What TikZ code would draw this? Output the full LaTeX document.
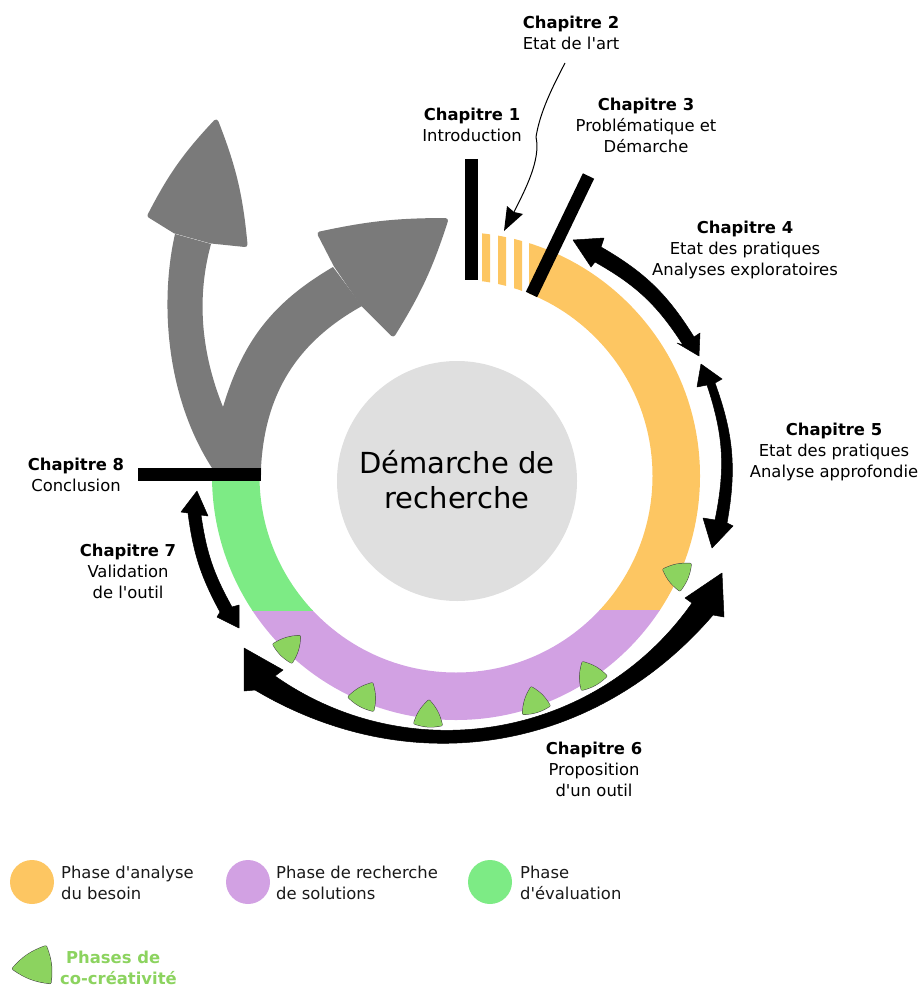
\documentclass[tikz,border=0pt]{standalone}
\usepackage{fontspec}
\usetikzlibrary{calc}
\setmainfont{DejaVu Sans}[Ligatures=TeXOff]
\definecolor{orangeph}{HTML}{FDC662}
\definecolor{purpleph}{HTML}{D2A1E3}
\definecolor{greenph}{HTML}{7DEB85}
\definecolor{grayarrow}{HTML}{7A7A7A}
\definecolor{tricol}{HTML}{8CD35F}
\definecolor{core}{HTML}{DFDFDF}
\tikzset{
  lbl/.style={align=center,inner sep=0pt,text=black,font=\fontsize{16.4}{21}\selectfont},
  leg/.style={align=left,anchor=west,inner sep=0pt,text=black!90,font=\fontsize{16.4}{21}\selectfont},
  blk/.style={fill=black,draw=black,line width=.5pt,line join=round},
  bar/.style={draw=black,line width=12.5pt},
  grayhead/.style={fill=grayarrow,draw=grayarrow,line width=5pt,line join=round},
  triout/.style={draw=black!75,line width=3.4pt,line join=round},
  triin/.style={fill=tricol,draw=tricol,line width=2.4pt,line join=round},
}
\newcommand{\ringpath}{(456,476) circle[radius=244pt] (456,476) circle[radius=196.5pt]}
\newcommand{\tri}[3]{%
  \coordinate (ta) at #1; \coordinate (tb) at #2; \coordinate (tc) at #3;
  \coordinate (tg) at (barycentric cs:ta=1,tb=1,tc=1);
  \coordinate (tA) at ($(tg)!0.86!(ta)$); \coordinate (tB) at ($(tg)!0.86!(tb)$); \coordinate (tC) at ($(tg)!0.86!(tc)$);
  \path[triout] (tA) to[bend left=14] (tB) to[bend left=14] (tC) to[bend left=14] cycle;
  \path[triin] (tA) to[bend left=14] (tB) to[bend left=14] (tC) to[bend left=14] cycle;
}
\begin{document}
\begin{tikzpicture}[x=1pt,y=-1pt]
\useasboundingbox (0,0) rectangle (921,987);
% ring
\begin{scope}
  \clip (529,200) rectangle (740,610.5) (482,200) rectangle (490,610.5) (498,200) rectangle (506,610.5) (514,200) rectangle (522,610.5);
  \fill[orangeph,even odd rule] \ringpath;
\end{scope}
\begin{scope}
  \clip (190,610) rectangle (720,740);
  \fill[purpleph,even odd rule] \ringpath;
\end{scope}
\begin{scope}
  \clip (190,475) rectangle (400,610);
  \fill[greenph,even odd rule] \ringpath;
\end{scope}
% core
\node[circle,fill=core,minimum size=240pt,inner sep=0pt] (core) at (457,481) {};
\node[align=center,inner sep=0pt,font=\fontsize{29}{35}\selectfont] (title) at (457,480) {Démarche de\\recherche};
% gray arrows
\fill[grayarrow] (175,234) .. controls (160,300) and (165,395) .. (212,468) -- (261,475) -- (261,468)
   to[bend left=29] (362,306) -- (333,267) to[bend right=21.5] (223,407)
   .. controls (200,350) and (197,295) .. (211,244) -- cycle;
\path[grayhead] (216,122) to[bend left=8] (245,244.5) -- (211,241) -- (175,231) -- (150,215.5) to[bend left=8] cycle;
\path[grayhead] (320,234) to[bend left=6] (445.5,220.5) to[bend left=7] (393,334) -- (362,303) -- (336,265) -- cycle;
% bars
\coordinate (b1a) at (471.5,159); \coordinate (b1b) at (471.5,280);
\coordinate (b3a) at (588.5,176); \coordinate (b3b) at (531.5,294.5);
\coordinate (b8a) at (138,474.5); \coordinate (b8b) at (261,474.5);
\draw[bar] (b1a) -- (b1b);
\draw[bar] (b3a) -- (b3b);
\draw[bar] (b8a) -- (b8b);
% chapter arrows
\path[blk] (573,240) -- (604,238) -- (601,247) to[bend left=14] (694,337) -- (700,333) -- (699,356) -- (677,343) -- (683,345) to[bend right=14] (595,262) -- (591,267) -- cycle;
\path[blk] (701,364) -- (722,379) -- (715,383) to[bend left=15] (727,523) -- (733,526) -- (712,548) -- (703,518) -- (715,520) to[bend right=15] (707,385) -- (697,387) -- cycle;
\path[blk] (722,573) -- (724,617) -- (713,615) to[bend left=40] (255,690) -- (244,691) -- (244,648) -- (283,670) -- (275,676) to[bend right=45] (692,603) -- (685,598) -- cycle;
\path[blk] (239,628) -- (217,617) -- (220,612) to[bend left=10.5] (188,513) -- (181,512) -- (197,491) -- (208,516) -- (201,515) to[bend right=10.5] (232,607) -- (239,605) -- cycle;
% chapter 2 pointer
\coordinate (c2s) at (565,63);
\coordinate (c2k) at (536,137);
\coordinate (c2n) at (514,212);
\draw[black,line width=1pt] (c2s) .. controls (552,88) and (540,112) .. (c2k) .. controls (541,160) and (525,190) .. (c2n);
\fill[black] (504,231) -- (507,206) -- (514,212) -- (523,214) -- cycle;
% co-creativity triangles
\tri{(301,635)}{(292,664)}{(272,644)}
\tri{(373,682)}{(374,712)}{(347,697)}
\tri{(429,699)}{(443,726)}{(413,724)}
\tri{(531,686)}{(551,706)}{(522,715)}
\tri{(582,661)}{(608,676)}{(581,691)}
\tri{(692,563)}{(680,592)}{(662,569)}
% labels
\node[lbl] (ch1) at (472,124.5) {\textbf{Chapitre 1}\\Introduction};
\node[lbl] (ch2) at (571,32.5) {\textbf{Chapitre 2}\\Etat de l'art};
\node[lbl] (ch3) at (646,125.5) {\textbf{Chapitre 3}\\Problématique et\\Démarche};
\node[lbl] (ch4) at (745,250) {\textbf{Chapitre 4}\\Etat des pratiques\\Analyses exploratoires};
\node[lbl] (ch5) at (834,452) {\textbf{Chapitre 5}\\Etat des pratiques\\Analyse approfondie};
\node[lbl] (ch6) at (594,769) {\textbf{Chapitre 6}\\Proposition\\d'un outil};
\node[lbl] (ch7) at (128,571) {\textbf{Chapitre 7}\\Validation\\de l'outil};
\node[lbl] (ch8) at (76,474.5) {\textbf{Chapitre 8}\\Conclusion};
% legend
\node[circle,fill=orangeph,minimum size=44pt,inner sep=0pt] (lo) at (32,882) {};
\node[circle,fill=purpleph,minimum size=44pt,inner sep=0pt] (lp) at (248,882) {};
\node[circle,fill=greenph,minimum size=44pt,inner sep=0pt] (lg) at (490,882) {};
\node[leg] (lot) at (61,882.5) {Phase d'analyse\\du besoin};
\node[leg] (lpt) at (276,882.5) {Phase de recherche\\de solutions};
\node[leg] (lgt) at (520,882.5) {Phase\\d'évaluation};
\tri{(47,944)}{(52,985)}{(10,969)}
\node[align=left,anchor=west,inner sep=0pt,text=tricol,font=\fontsize{16.4}{21}\selectfont\bfseries] (lct) at (60,967.5) {\hspace*{6pt}Phases de\\co-créativité};
\end{tikzpicture}
\end{document}
